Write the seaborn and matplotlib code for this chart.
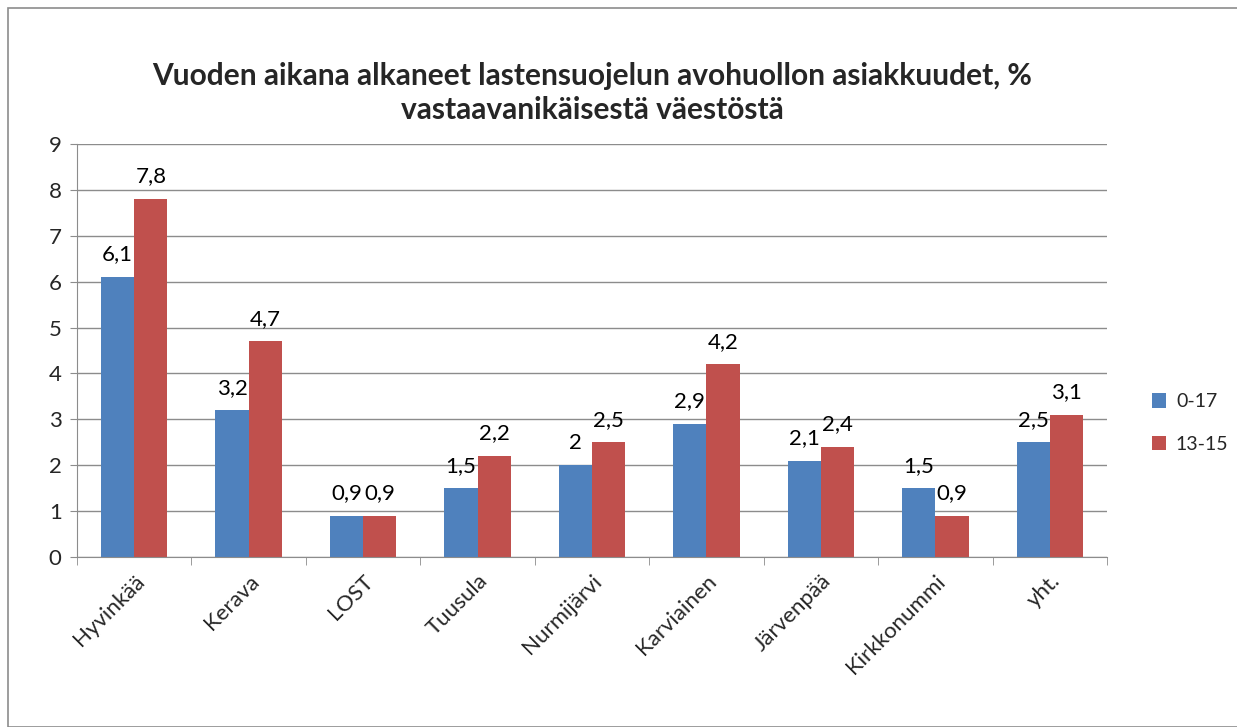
import matplotlib
matplotlib.use("Agg")
import matplotlib.pyplot as plt
import seaborn as sns
import pandas as pd
import numpy as np

# data
kunnat = ["Hyvinkää", "Kerava", "LOST", "Tuusula", "Nurmijärvi",
          "Karviainen", "Järvenpää", "Kirkkonummi", "yht."]
ika_0_17 = [6.1, 3.2, 0.9, 1.5, 2.0, 2.9, 2.1, 1.5, 2.5]
ika_13_15 = [7.8, 4.7, 0.9, 2.2, 2.5, 4.2, 2.4, 0.9, 3.1]
sarjat = ["0-17", "13-15"]
varit = ["#4F81BD", "#C0504D"]

df = pd.DataFrame({
    "kunta": kunnat * 2,
    "sarja": [sarjat[0]] * len(kunnat) + [sarjat[1]] * len(kunnat),
    "arvo": ika_0_17 + ika_13_15,
})

sns.set_style("white")
plt.rcParams["font.family"] = ["Lato", "DejaVu Sans"]

fig = plt.figure(figsize=(12.37, 7.27), dpi=100)
ax = fig.add_axes([77 / 1237, 1 - 557 / 727, (1107 - 77) / 1237, (557 - 144) / 727])

sns.barplot(data=df, x="kunta", y="arvo", hue="sarja", palette=varit,
            width=0.58, saturation=1, ax=ax, legend=True, linewidth=0)

for cont in ax.containers:
    labels = [("%g" % b.get_height()).replace(".", ",") for b in cont]
    ax.bar_label(cont, labels=labels, padding=9, fontsize=16, color="black")

ax.set_ylim(0, 9)
ax.set_xlim(-0.5, len(kunnat) - 0.5)
ax.set_yticks(range(0, 10))
ax.yaxis.grid(True, color="#8C8C8C", linewidth=1)
ax.set_axisbelow(True)
ax.set_xlabel("")
ax.set_ylabel("")
for s in ["top", "right"]:
    ax.spines[s].set_visible(False)
for s in ["left", "bottom"]:
    ax.spines[s].set_color("#8C8C8C")
ax.tick_params(axis="y", labelsize=16, length=5, color="#8C8C8C", left=True, pad=6)
ax.set_xticks(range(len(kunnat)))
ax.set_xticklabels(kunnat, rotation=45, ha="right", rotation_mode="anchor", fontsize=16)
ax.tick_params(axis="x", which="major", length=0, pad=10)
ax.set_xticks(np.arange(-0.5, len(kunnat)), minor=True)
ax.tick_params(axis="x", which="minor", length=6, color="#8C8C8C", bottom=True)

h, l = ax.get_legend_handles_labels()
ax.legend_.remove()
fig.legend(h, l, loc="center left", bbox_to_anchor=(1138 / 1237, 1 - 423 / 727),
           frameon=False, fontsize=14, handlelength=0.75, handleheight=0.75,
           labelspacing=1.3, handletextpad=0.5, borderpad=0.2)

fig.text(0.5 * (77 + 1107) / 1237, 1 - 93 / 727,
         "Vuoden aikana alkaneet lastensuojelun avohuollon asiakkuudet, %\nvastaavanikäisestä väestöstä",
         ha="center", va="center", fontsize=21.5, fontweight="bold", linespacing=1.25)

# chart border
fig.patches.append(plt.Rectangle((8 / 1237, 0), 1.2, 1 - 8 / 727, transform=fig.transFigure,
                                 fill=False, edgecolor="#8C8C8C", linewidth=1.2))

fig.savefig("out.png", dpi=100)
